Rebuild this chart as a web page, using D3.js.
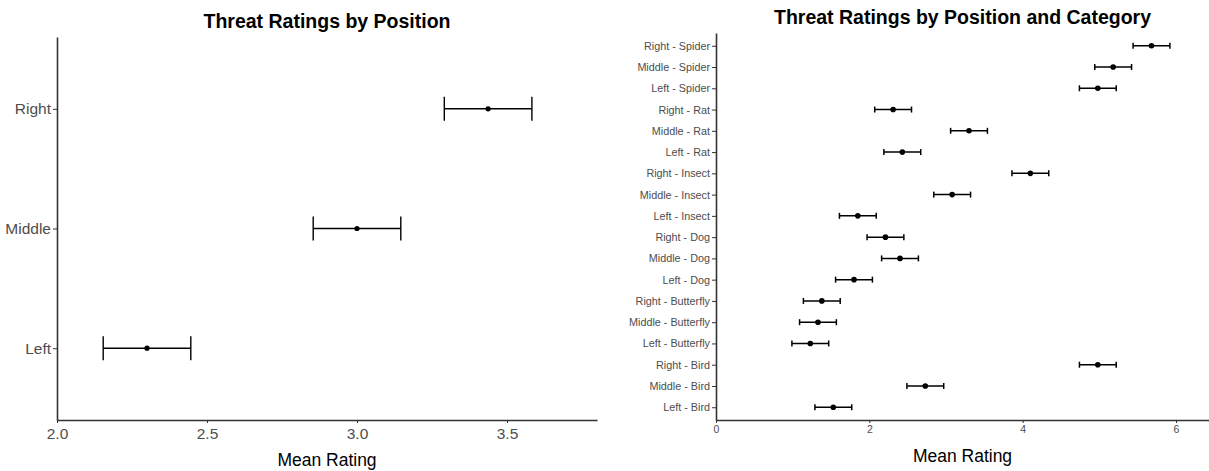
<!DOCTYPE html>
<html>
<head>
<meta charset="utf-8">
<script src="https://cdn.jsdelivr.net/npm/d3@7"></script>
<style>
  body { margin: 0; background: #fff; }
  svg { display: block; font-family: 'Liberation Sans', Arial, sans-serif; }
</style>
</head>
<body>
<div id="chart"></div>
<script>
// Panel 1: by position
const positions = ['Left', 'Middle', 'Right'];
const positionMeans = [2.30, 3.00, 3.437];
const positionErr = [0.146, 0.146, 0.146];
const positionTicks = [2.0, 2.5, 3.0, 3.5];

// Panel 2: by position and category (bottom to top)
const groups = [
  'Left - Bird', 'Middle - Bird', 'Right - Bird',
  'Left - Butterfly', 'Middle - Butterfly', 'Right - Butterfly',
  'Left - Dog', 'Middle - Dog', 'Right - Dog',
  'Left - Insect', 'Middle - Insect', 'Right - Insect',
  'Left - Rat', 'Middle - Rat', 'Right - Rat',
  'Left - Spider', 'Middle - Spider', 'Right - Spider',
];
const groupMeans = [
  1.53, 2.73, 4.98,
  1.23, 1.33, 1.38,
  1.80, 2.40, 2.21,
  1.85, 3.08, 4.10,
  2.43, 3.30, 2.31,
  4.98, 5.18, 5.68,
];
const groupErr = [
  0.24, 0.24, 0.24,
  0.24, 0.24, 0.24,
  0.24, 0.24, 0.24,
  0.24, 0.24, 0.24,
  0.24, 0.24, 0.24,
  0.24, 0.24, 0.24,
];
const groupTicks = [0, 2, 4, 6];

const W = 1209;
const H = 471;
const axisColor = '#333333';
const labelColor = '#4d4d4d';

const svg = d3.select('#chart').append('svg')
  .attr('width', W)
  .attr('height', H);

function drawPanel(opts) {
  const g = svg.append('g');
  const x = d3.scaleLinear().domain(opts.xDomain).range([opts.left, opts.right]);
  const y = d3.scalePoint().domain(opts.cats.slice().reverse())
    .range([opts.top, opts.bottom]).padding(0.6);

  const rows = opts.cats.map((c, i) => ({ cat: c, mean: opts.means[i], err: opts.errs[i] }));

  // axes
  const xAxis = d3.axisBottom(x).tickValues(opts.ticks)
    .tickFormat(opts.fmt).tickSize(3).tickSizeOuter(0).tickPadding(opts.xPad);
  const gx = g.append('g').attr('transform', `translate(0,${opts.bottom})`).call(xAxis);
  const yAxis = d3.axisLeft(y).tickSize(4).tickSizeOuter(0).tickPadding(2);
  const gy = g.append('g').attr('transform', `translate(${opts.left},0)`).call(yAxis);

  [gx, gy].forEach((ax) => {
    ax.select('.domain').attr('stroke', axisColor).attr('stroke-width', 1.6);
    ax.selectAll('.tick line').attr('stroke', axisColor).attr('stroke-width', 1);
    ax.selectAll('.tick text').attr('fill', labelColor)
      .style('font-family', "'Liberation Sans', Arial, sans-serif");
  });
  gx.selectAll('.tick text').style('font-size', `${opts.xFont}px`);
  gy.selectAll('.tick text').style('font-size', `${opts.yFont}px`);

  // error bars
  const bars = g.append('g').selectAll('g').data(rows).enter().append('g')
    .attr('stroke', '#000').attr('stroke-width', opts.barWidth);
  bars.append('line')
    .attr('x1', (d) => x(d.mean - d.err)).attr('x2', (d) => x(d.mean + d.err))
    .attr('y1', (d) => y(d.cat)).attr('y2', (d) => y(d.cat));
  bars.append('line')
    .attr('x1', (d) => x(d.mean - d.err)).attr('x2', (d) => x(d.mean - d.err))
    .attr('y1', (d) => y(d.cat) - opts.cap).attr('y2', (d) => y(d.cat) + opts.cap);
  bars.append('line')
    .attr('x1', (d) => x(d.mean + d.err)).attr('x2', (d) => x(d.mean + d.err))
    .attr('y1', (d) => y(d.cat) - opts.cap).attr('y2', (d) => y(d.cat) + opts.cap);

  g.append('g').selectAll('circle').data(rows).enter().append('circle')
    .attr('cx', (d) => x(d.mean))
    .attr('cy', (d) => y(d.cat))
    .attr('r', opts.r)
    .attr('fill', '#000');

  // titles
  const cx = (opts.left + opts.right) / 2;
  g.append('text').attr('x', cx).attr('y', opts.titleY)
    .attr('text-anchor', 'middle').attr('font-weight', 'bold')
    .attr('font-size', 19.5).attr('fill', '#000').text(opts.title);
  g.append('text').attr('x', cx).attr('y', opts.xLabelY)
    .attr('text-anchor', 'middle').attr('font-size', 17.5)
    .attr('fill', '#000').text('Mean Rating');
}

drawPanel({
  cats: positions,
  means: positionMeans,
  errs: positionErr,
  ticks: positionTicks,
  fmt: d3.format('.1f'),
  xDomain: [2.0, 3.8],
  left: 57,
  right: 597,
  top: 37,
  bottom: 420,
  xFont: 15.5,
  yFont: 15.5,
  xPad: 5,
  cap: 12,
  barWidth: 1.4,
  r: 2.6,
  title: 'Threat Ratings by Position',
  titleY: 28,
  xLabelY: 466,
});

drawPanel({
  cats: groups,
  means: groupMeans,
  errs: groupErr,
  ticks: groupTicks,
  fmt: d3.format('d'),
  xDomain: [0, 6.43],
  left: 716,
  right: 1209,
  top: 33,
  bottom: 420,
  xFont: 10.5,
  yFont: 10.8,
  xPad: 3,
  cap: 3,
  barWidth: 1.5,
  r: 2.8,
  title: 'Threat Ratings by Position and Category',
  titleY: 24,
  xLabelY: 462,
});
</script>
</body>
</html>
